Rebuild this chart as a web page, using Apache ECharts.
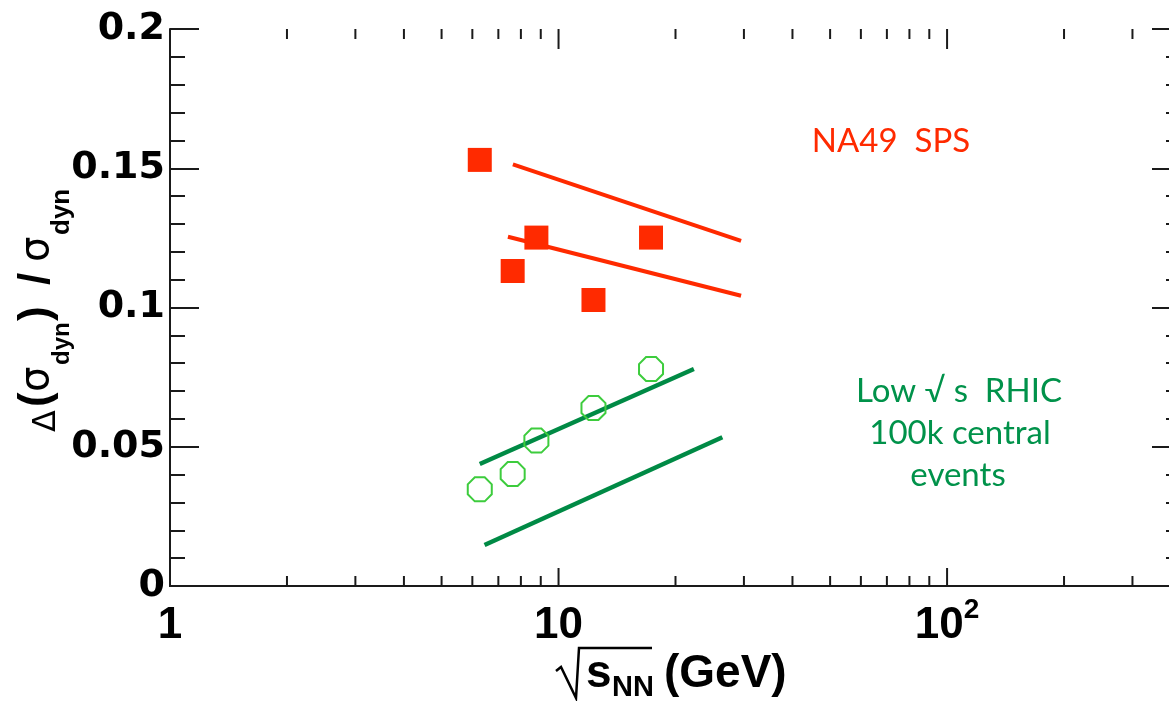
<!DOCTYPE html>
<html>
<head>
<meta charset="utf-8">
<script src="https://cdn.jsdelivr.net/npm/echarts@6/dist/echarts.min.js"></script>
<style>
  html, body { margin: 0; padding: 0; background: #fff; }
  #chart { width: 1169px; height: 701px; }
</style>
</head>
<body>
<div id="chart"></div>
<script>
// Beam energies sqrt(s_NN) in GeV
const energies = [6.27, 7.62, 8.77, 12.3, 17.3];
// NA49 SPS measurements of Delta(sigma_dyn)/sigma_dyn
const na49Values = [0.153, 0.1131, 0.1251, 0.1027, 0.1251];
// Projected low-energy RHIC precision (100k central events)
const rhicValues = [0.0347, 0.0402, 0.0522, 0.0639, 0.0779];

// Trend bands
const na49UpperX = [7.63, 29.5];
const na49UpperY = [0.1514, 0.1239];
const na49LowerX = [7.41, 29.5];
const na49LowerY = [0.1254, 0.1042];
const rhicUpperX = [6.27, 22.3];
const rhicUpperY = [0.0438, 0.0779];
const rhicLowerX = [6.45, 26.4];
const rhicLowerY = [0.0147, 0.0534];

// Axis ticks and labels
const xMajorTicks = [1, 10, 100];
const xTickLabels = ['{a|1}', '{a|10}', '{a|10}{s|2}'];
const xMinorTicks = [2, 3, 4, 5, 6, 7, 8, 9, 20, 30, 40, 50, 60, 70, 80, 90, 200, 300, 400];
const xRange = [1, 400];
const yRange = [0, 0.2];
const yStep = 0.05;

const RED = '#ff2a00';
const GREEN_LINE = '#008a45';
const GREEN_MARK = '#3dcc3d';
const GREEN_TEXT = '#00924a';
const INK = '#1a1a1a';

const OCTAGON = 'path://M2.93,0L7.07,0L10,2.93L10,7.07L7.07,10L2.93,10L0,7.07L0,2.93Z';

const zip = (xs, ys) => xs.map((x, i) => [x, ys[i]]);

// text placed by its baseline
function txt(str, x, baseline, size, o) {
  o = o || {};
  return {
    type: 'text', x: x, y: baseline - 0.35 * size,
    style: {
      text: str, fontSize: size,
      fontFamily: o.family || 'Liberation Sans',
      fontWeight: o.weight || 'bold',
      fill: o.color || '#000',
      align: o.align || 'left', verticalAlign: 'middle'
    }
  };
}

// decade ticks on the bottom and top frame of the log axis
function tickSeries(values, lenB, lenT) {
  return {
    type: 'custom', xAxisIndex: 0, yAxisIndex: 0, silent: true, clip: false, z: 10,
    data: values.map(v => [v, yRange[0]]),
    encode: { x: 0, y: 1 },
    renderItem: function (params, api) {
      const v = api.value(0);
      const b = api.coord([v, yRange[0]]);
      const t = api.coord([v, yRange[1]]);
      const st = { stroke: INK, lineWidth: 2 };
      return {
        type: 'group', children: [
          { type: 'line', shape: { x1: b[0], y1: b[1], x2: b[0], y2: b[1] - lenB }, style: st },
          { type: 'line', shape: { x1: t[0], y1: t[1], x2: t[0], y2: t[1] + lenT }, style: st }
        ]
      };
    }
  };
}

const chart = echarts.init(document.getElementById('chart'), null, { renderer: 'canvas' });

const axisLine = { show: true, lineStyle: { color: INK, width: 2 } };

const xBase = {
  type: 'log', logBase: 10, min: xRange[0], max: xRange[1],
  gridIndex: 0, splitLine: { show: false }, minorSplitLine: { show: false },
  axisTick: { show: false }, minorTick: { show: false },
  axisLine: axisLine
};
const yBase = {
  type: 'value', min: yRange[0], max: yRange[1], interval: yStep,
  splitLine: { show: false }, minorSplitLine: { show: false },
  axisLine: axisLine,
  axisTick: { show: true, inside: true, length: 29, lineStyle: { color: INK, width: 2 } },
  minorTick: { show: true, splitNumber: 5, length: 15, lineStyle: { color: INK, width: 2 } }
};

const titles = [
  // y axis title, reading upward
  {
    type: 'group', x: 52, y: 432, rotation: Math.PI / 2,
    children: [
      txt('\u0394', 0, 6, 32, { family: 'DejaVu Sans', weight: 'normal' }),
      txt('(', 25, 0, 44),
      txt('\u03c3', 40, 0, 40, { family: 'DejaVu Sans', weight: 'normal' }),
      txt('dyn', 67, 19, 24),
      txt(')', 111, 0, 44),
      txt('/', 147, 0, 44),
      txt('\u03c3', 170, 0, 40, { family: 'DejaVu Sans', weight: 'normal' }),
      txt('dyn', 197, 19, 26)
    ]
  },
  // x axis title: sqrt(s_NN) (GeV)
  {
    type: 'polyline',
    shape: { points: [[556, 671], [561, 667], [576, 698], [579, 648], [652, 648]] },
    style: { stroke: '#000', lineWidth: 2.5, fill: null, lineJoin: 'miter' }
  },
  txt('s', 586, 690, 46),
  txt('NN', 612, 698, 29),
  txt('(GeV)', 664, 690, 46),
  // annotations
  txt('NA49  SPS', 891, 153, 33, { family: 'Lato', weight: 'normal', color: RED, align: 'center' }),
  txt('Low \u221a s  RHIC', 959, 403, 33, { family: 'Lato', weight: 'normal', color: GREEN_TEXT, align: 'center' }),
  txt('100k central', 960, 445, 33, { family: 'Lato', weight: 'normal', color: GREEN_TEXT, align: 'center' }),
  txt('events', 958, 487, 33, { family: 'Lato', weight: 'normal', color: GREEN_TEXT, align: 'center' })
];

const option = {
  backgroundColor: '#fff',
  animation: false,
  grid: { left: 170, top: 29, width: 1011, height: 557, containLabel: false, outerBoundsMode: 'none' },
  xAxis: [
    Object.assign({}, xBase, {
      position: 'bottom',
      axisLabel: {
        show: true, margin: 10, color: '#000',
        formatter: function (v) {
          for (let i = 0; i < xMajorTicks.length; i++) {
            if (Math.abs(v - xMajorTicks[i]) < 1e-6 * xMajorTicks[i]) return xTickLabels[i];
          }
          return '';
        },
        rich: {
          a: { fontFamily: 'Liberation Sans', fontWeight: 'bold', fontSize: 44, lineHeight: 60, color: '#000' },
          s: { fontFamily: 'Liberation Sans', fontWeight: 'bold', fontSize: 28, lineHeight: 28, verticalAlign: 'top', color: '#000' }
        }
      }
    }),
    Object.assign({}, xBase, {
      position: 'top',
      axisLabel: { show: false }
    })
  ],
  yAxis: [
    Object.assign({}, yBase, {
      position: 'left',
      axisLabel: {
        show: true, margin: 5, color: '#000',
        fontFamily: 'DejaVu Sans', fontWeight: 'bold', fontSize: 38
      }
    }),
    Object.assign({}, yBase, {
      position: 'right',
      axisLabel: { show: false }
    })
  ],
  series: [
    tickSeries(xMinorTicks, 10, 10),
    tickSeries(xMajorTicks, 18, 20),
    { type: 'line', data: zip(na49UpperX, na49UpperY), showSymbol: false, lineStyle: { color: RED, width: 4 }, silent: true },
    { type: 'line', data: zip(na49LowerX, na49LowerY), showSymbol: false, lineStyle: { color: RED, width: 4 }, silent: true },
    { type: 'line', data: zip(rhicUpperX, rhicUpperY), showSymbol: false, lineStyle: { color: GREEN_LINE, width: 4.5 }, silent: true },
    { type: 'line', data: zip(rhicLowerX, rhicLowerY), showSymbol: false, lineStyle: { color: GREEN_LINE, width: 4.5 }, silent: true },
    {
      name: 'NA49 SPS', type: 'scatter', data: zip(energies, na49Values),
      symbol: 'rect', symbolSize: 24, itemStyle: { color: RED, opacity: 1 }, z: 5
    },
    {
      name: 'Low energy RHIC', type: 'scatter', data: zip(energies, rhicValues),
      symbol: OCTAGON, symbolSize: 24,
      itemStyle: { color: 'rgba(0,0,0,0)', borderColor: GREEN_MARK, borderWidth: 2, opacity: 1 }, z: 5
    }
  ],
  graphic: titles
};

chart.setOption(option);
</script>
</body>
</html>
